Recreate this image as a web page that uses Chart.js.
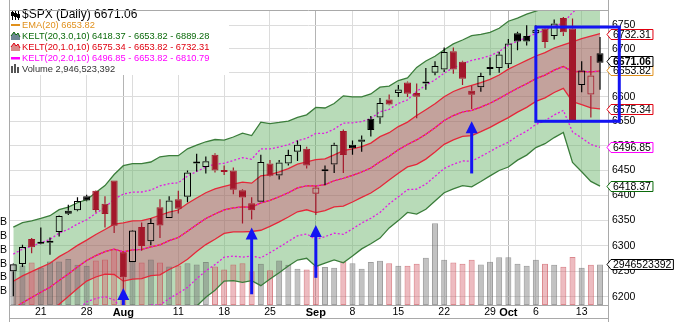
<!DOCTYPE html>
<html>
<head>
<meta charset="utf-8">
<title>$SPX Daily</title>
<script src="https://cdn.jsdelivr.net/npm/chart.js@4.4.1/dist/chart.umd.min.js"></script>
<style>
  html, body { margin: 0; padding: 0; background: #fff; }
  canvas { display: block; }
</style>
</head>
<body>
<canvas id="chart" width="675" height="322"></canvas>
<script>
// $SPX daily candles with Keltner channels and volume overlay

// Trading days
const dates = [
  '2025-07-16','2025-07-17','2025-07-18','2025-07-21','2025-07-22','2025-07-23','2025-07-24','2025-07-25',
  '2025-07-28','2025-07-29','2025-07-30','2025-07-31','2025-08-01','2025-08-04','2025-08-05','2025-08-06',
  '2025-08-07','2025-08-08','2025-08-11','2025-08-12','2025-08-13','2025-08-14','2025-08-15','2025-08-18',
  '2025-08-19','2025-08-20','2025-08-21','2025-08-22','2025-08-25','2025-08-26','2025-08-27','2025-08-28',
  '2025-08-29','2025-09-02','2025-09-03','2025-09-04','2025-09-05','2025-09-08','2025-09-09','2025-09-10',
  '2025-09-11','2025-09-12','2025-09-15','2025-09-16','2025-09-17','2025-09-18','2025-09-19','2025-09-22',
  '2025-09-23','2025-09-24','2025-09-25','2025-09-26','2025-09-29','2025-09-30','2025-10-01','2025-10-02',
  '2025-10-03','2025-10-06','2025-10-07','2025-10-08','2025-10-09','2025-10-10','2025-10-13','2025-10-14',
  '2025-10-15'
];

const opens = [
  6250, 6264, 6313, 6304, 6306, 6327, 6369, 6370, 6398, 6409,
  6383, 6430, 6287, 6268, 6337, 6309, 6376, 6355, 6392, 6397,
  6464, 6457, 6482, 6447, 6450, 6410, 6384, 6387, 6464, 6440,
  6464, 6488, 6494, 6403, 6452, 6462, 6530, 6502, 6508, 6555,
  6558, 6595, 6608, 6630, 6608, 6628, 6650, 6657, 6695, 6673,
  6613, 6620, 6658, 6660, 6668, 6733, 6727, 6733, 6743, 6727,
  6765, 6743, 6625, 6605, 6691
];
const highs = [
  6265, 6302, 6315, 6336, 6316, 6360, 6381, 6396, 6401, 6410,
  6398, 6430, 6288, 6331, 6346, 6354, 6392, 6398, 6409, 6450,
  6484, 6478, 6485, 6460, 6456, 6412, 6396, 6482, 6471, 6471,
  6492, 6511, 6498, 6418, 6460, 6506, 6533, 6511, 6521, 6561,
  6598, 6605, 6625, 6632, 6628, 6660, 6674, 6703, 6703, 6675,
  6623, 6650, 6682, 6694, 6721, 6736, 6750, 6750, 6747, 6762,
  6767, 6764, 6674, 6685, 6725
];
const lows = [
  6201, 6258, 6285, 6303, 6282, 6318, 6361, 6368, 6388, 6366,
  6336, 6325, 6213, 6268, 6290, 6301, 6315, 6355, 6364, 6386,
  6448, 6444, 6446, 6441, 6402, 6344, 6352, 6387, 6438, 6432,
  6460, 6469, 6454, 6361, 6420, 6445, 6445, 6482, 6488, 6519,
  6545, 6583, 6600, 6600, 6556, 6615, 6645, 6652, 6648, 6625,
  6575, 6611, 6645, 6650, 6660, 6697, 6707, 6726, 6702, 6720,
  6727, 6550, 6610, 6558, 6615
];
const closes = [
  6263.70, 6297.36, 6296.79, 6305.60, 6309.62, 6358.91, 6363.35, 6388.64, 6389.77, 6370.86,
  6362.90, 6339.39, 6238.01, 6329.94, 6299.19, 6345.06, 6340.00, 6389.45, 6373.45, 6445.76,
  6466.58, 6468.54, 6449.80, 6449.15, 6411.37, 6395.78, 6370.17, 6466.91, 6439.32, 6465.94,
  6481.40, 6501.86, 6460.26, 6415.54, 6448.26, 6502.08, 6481.50, 6495.15, 6512.61, 6532.04,
  6587.47, 6584.29, 6615.28, 6606.76, 6600.35, 6631.96, 6664.36, 6693.75, 6656.92, 6637.97,
  6604.72, 6643.70, 6661.21, 6688.46, 6711.20, 6715.35, 6715.79, 6740.28, 6714.59, 6753.72,
  6735.11, 6552.51, 6654.72, 6644.31, 6671.06
];

// volume in billions
const volumes = [
  2.95, 2.88, 3.09, 2.73, 3.17, 3.17, 3.35, 2.93, 2.86, 3.24,
  3.31, 4.03, 3.95, 3.17, 3.09, 3.31, 3.09, 2.81, 2.88, 3.04,
  2.95, 3.12, 2.81, 2.59, 2.95, 3.04, 2.45, 3.00, 2.52, 3.24,
  2.93, 2.64, 2.59, 2.88, 2.76, 2.71, 3.17, 3.04, 2.64, 3.12,
  3.22, 3.04, 2.86, 2.86, 3.00, 3.43, 5.95, 3.29, 3.09, 3.00,
  3.29, 2.95, 3.14, 3.47, 3.47, 3.00, 2.86, 3.29, 3.00, 2.93,
  2.78, 3.50, 2.71, 2.93, 2.946523392
];

const ema20 = [
  6177.1, 6188.6, 6198.9, 6209.0, 6218.6, 6232.0, 6244.5, 6258.3, 6270.8, 6280.4,
  6288.2, 6293.1, 6287.8, 6291.8, 6292.5, 6297.6, 6301.6, 6310.0, 6316.1, 6328.5,
  6341.6, 6353.7, 6362.8, 6371.0, 6374.8, 6376.8, 6376.2, 6384.9, 6390.0, 6397.3,
  6405.3, 6414.9, 6419.2, 6418.8, 6421.6, 6429.3, 6434.3, 6440.1, 6447.0, 6455.1,
  6467.7, 6478.8, 6491.8, 6502.7, 6512.0, 6523.4, 6536.8, 6551.7, 6561.7, 6569.0,
  6572.4, 6579.2, 6587.0, 6596.7, 6607.6, 6617.9, 6627.2, 6638.0, 6645.3, 6655.6,
  6663.2, 6652.7, 6652.9, 6652.1, 6653.8225
];
const atr10 = [
  53.2, 52.3, 50.1, 48.3, 46.9, 46.5, 44.0, 42.3, 40.2, 41.8,
  43.8, 49.6, 57.3, 57.4, 57.1, 56.5, 58.7, 56.7, 54.6, 55.1,
  53.2, 51.5, 50.0, 46.8, 47.7, 49.6, 48.2, 54.4, 51.8, 50.1,
  48.4, 47.7, 48.0, 53.2, 51.9, 52.4, 56.0, 53.4, 51.1, 50.4,
  50.9, 47.9, 47.4, 45.6, 49.8, 50.4, 49.3, 48.8, 49.6, 49.9,
  51.8, 50.5, 49.3, 48.9, 50.2, 49.0, 48.7, 47.2, 47.0, 46.3,
  45.4, 62.2, 68.5, 74.7, 78.485
];

const priceTicks = [6200, 6250, 6300, 6350, 6400, 6450, 6500, 6550, 6600, 6650, 6700, 6750];
const volumeTicks = [1, 2, 3, 4, 5, 6];

// hand-drawn annotations (bar index / price)
const arrowIdx = [12, 26, 33, 50];
const arrowTip = [6217, 6336, 6341, 6550];
const arrowTail = [6184, 6205, 6237, 6444];
const boxIdx = [57, 66.1];
const boxPrice = [6550, 6746];

(function() {
  'use strict';

  const FONT = 'Arial, "Liberation Sans", sans-serif';
  Chart.defaults.font.family = FONT;
  Chart.defaults.color = '#000';

  const RED = '#a3172a';
  const BLACK = '#000000';
  const BLUE = '#1414f2';
  const n = closes.length;

  const isUp = closes.map((c, i) => i === 0 || c >= closes[i - 1]);
  const candleColor = isUp.map(u => u ? BLACK : RED);
  const hollow = closes.map((c, i) => c > opens[i]);

  const pts = arr => arr.map((v, i) => ({ x: i, y: v }));
  const band = k => ema20.map((e, i) => e + k * atr10[i]);

  // week / month ticks from the dates
  const monthNames = ['Jan','Feb','Mar','Apr','May','Jun','Jul','Aug','Sep','Oct','Nov','Dec'];
  const xTicks = [];
  let lastLabel = -99;
  for (let i = 1; i < n; i++) {
    const d = new Date(dates[i] + 'T00:00:00Z');
    const p = new Date(dates[i - 1] + 'T00:00:00Z');
    const newMonth = d.getUTCMonth() !== p.getUTCMonth();
    const newWeek = d.getUTCDay() < p.getUTCDay();
    if (!newMonth && !newWeek) continue;
    let label = newMonth ? monthNames[d.getUTCMonth()] : String(d.getUTCDate());
    if (i - lastLabel < 2) label = '';
    else lastLabel = i;
    xTicks.push({ value: i, label: label, month: newMonth });
  }
  const tickInfo = {};
  xTicks.forEach(t => { tickInfo[t.value] = t; });
  const isMonthTick = c => !!(c.tick && tickInfo[c.tick.value] && tickInfo[c.tick.value].month);

  const lineDs = (data, color, width, dash, order, extra) => Object.assign({
    type: 'line',
    data: pts(data),
    yAxisID: 'y',
    borderColor: color,
    borderWidth: width,
    borderDash: dash || [],
    pointRadius: 0,
    tension: 0,
    fill: false,
    order: order
  }, extra || {});

  const datasets = [
    lineDs(band(3), '#3b7d3b', 1.3, null, 12, { fill: '+1', backgroundColor: 'rgba(105,178,105,0.47)' }),
    lineDs(band(-3), '#3b7d3b', 1.3, null, 12),
    lineDs(band(1), '#e5283a', 1.3, null, 11, { fill: '+1', backgroundColor: 'rgba(220,30,90,0.30)' }),
    lineDs(band(-1), '#e5283a', 1.3, null, 11),
    lineDs(band(2), '#e21ee2', 1.3, [2, 2], 5),
    lineDs(band(-2), '#e21ee2', 1.3, [2, 2], 5),
    lineDs(ema20, '#e0901c', 1.2, null, 7),
    lineDs(ema20, '#e5283a', 1.2, null, 6),
    lineDs(ema20, '#e21ee2', 1.3, [2, 2], 4),
    {
      type: 'bar',
      yAxisID: 'yv',
      data: volumes.map((v, i) => ({ x: i, y: v })),
      backgroundColor: isUp.map(u => u ? 'rgba(120,120,120,0.45)' : 'rgba(215,105,115,0.45)'),
      borderColor: isUp.map(u => u ? 'rgba(95,95,95,0.6)' : 'rgba(200,70,80,0.65)'),
      borderWidth: 1,
      borderSkipped: false,
      barThickness: 6,
      grouped: false,
      inflateAmount: 0,
      order: 20
    },
    {
      type: 'bar',
      yAxisID: 'y',
      data: closes.map((c, i) => ({ x: i, y: [Math.max(opens[i], c), highs[i]] })),
      backgroundColor: candleColor,
      borderWidth: 0,
      barThickness: 1.2,
      grouped: false,
      inflateAmount: 0,
      order: 2
    },
    {
      type: 'bar',
      yAxisID: 'y',
      data: closes.map((c, i) => ({ x: i, y: [lows[i], Math.min(opens[i], c)] })),
      backgroundColor: candleColor,
      borderWidth: 0,
      barThickness: 1.2,
      grouped: false,
      inflateAmount: 0,
      order: 2
    },
    {
      type: 'bar',
      yAxisID: 'y',
      data: closes.map((c, i) => ({ x: i, y: [opens[i], c] })),
      backgroundColor: candleColor.map((col, i) => hollow[i] ? 'rgba(0,0,0,0)' : col),
      borderColor: candleColor,
      borderWidth: 1,
      borderSkipped: false,
      barThickness: 7,
      minBarLength: 2,
      grouped: false,
      inflateAmount: 0,
      order: 1
    }
  ];

  const fmt = v => v.toFixed(2);

  function drawFlag(ctx, y, text, color, bold) {
    const x0 = 607;
    const h = 10;
    ctx.save();
    ctx.font = (bold ? 'bold ' : '') + '10.5px ' + FONT;
    const w = ctx.measureText(text).width + 4;
    const yy = Math.round(y) + 0.5;
    ctx.beginPath();
    ctx.moveTo(x0, yy);
    ctx.lineTo(x0 + 4, yy - h / 2);
    ctx.lineTo(x0 + 4 + w, yy - h / 2);
    ctx.lineTo(x0 + 4 + w, yy + h / 2);
    ctx.lineTo(x0 + 4, yy + h / 2);
    ctx.closePath();
    ctx.fillStyle = '#fff';
    ctx.fill();
    ctx.strokeStyle = color;
    ctx.lineWidth = 1;
    ctx.stroke();
    ctx.fillStyle = '#000';
    ctx.textBaseline = 'middle';
    ctx.textAlign = 'left';
    ctx.fillText(text, x0 + 6, yy + 0.5);
    ctx.restore();
  }

  function drawArrow(ctx, x, yTip, yTail) {
    ctx.save();
    ctx.fillStyle = BLUE;
    ctx.strokeStyle = BLUE;
    ctx.lineWidth = 3;
    ctx.beginPath();
    ctx.moveTo(x, yTip + 10);
    ctx.lineTo(x, yTail);
    ctx.stroke();
    ctx.beginPath();
    ctx.moveTo(x, yTip);
    ctx.lineTo(x - 6, yTip + 12);
    ctx.lineTo(x + 6, yTip + 12);
    ctx.closePath();
    ctx.fill();
    ctx.restore();
  }

  function mountainIcon(ctx, y, fill, stroke) {
    ctx.beginPath();
    ctx.moveTo(11, y + 4);
    ctx.lineTo(11, y);
    ctx.lineTo(14, y - 4);
    ctx.lineTo(16, y - 1);
    ctx.lineTo(18, y - 3);
    ctx.lineTo(20, y + 1);
    ctx.lineTo(20, y + 4);
    ctx.closePath();
    ctx.fillStyle = fill;
    ctx.fill();
    ctx.beginPath();
    ctx.moveTo(11, y);
    ctx.lineTo(14, y - 4);
    ctx.lineTo(16, y - 1);
    ctx.lineTo(18, y - 3);
    ctx.lineTo(20, y + 1);
    ctx.strokeStyle = stroke;
    ctx.lineWidth = 1;
    ctx.stroke();
  }

  const overlay = {
    id: 'overlay',
    afterDatasetsDraw(chart) {
      const ctx = chart.ctx;
      const last = n - 1;
      const e = ema20[last], a = atr10[last];
      ctx.save();
      // legend box
      ctx.fillStyle = '#fff';
      ctx.fillRect(10, 8, 219, 67);
      ctx.textBaseline = 'middle';
      ctx.textAlign = 'left';

      // price icon
      ctx.strokeStyle = '#000';
      ctx.fillStyle = '#000';
      ctx.lineWidth = 1;
      [12.5, 15.5, 18.5].forEach((x, k) => {
        ctx.beginPath();
        ctx.moveTo(x, 10);
        ctx.lineTo(x, 20);
        ctx.stroke();
        ctx.fillRect(x - 1.5, 12 + k, 3, 4);
      });
      ctx.font = '12px ' + FONT;
      ctx.fillText('$SPX (Daily) ' + fmt(closes[last]), 22, 15);

      ctx.font = '9.3px ' + FONT;
      ctx.fillStyle = '#e0901c';
      ctx.fillRect(11, 24, 9, 2);
      ctx.fillText('EMA(20) ' + fmt(e), 22, 25.5);

      mountainIcon(ctx, 36, '#6f8795', '#0b6a0b');
      ctx.fillStyle = '#0b6a0b';
      ctx.font = '9.3px ' + FONT;
      ctx.fillText('KELT(20,3.0,10) ' + fmt(e - 3 * a) + ' - ' + fmt(e) + ' - ' + fmt(e + 3 * a), 22, 36.5);

      mountainIcon(ctx, 47, '#d98a8a', '#e00010');
      ctx.fillStyle = '#e00010';
      ctx.fillText('KELT(20,1.0,10) ' + fmt(e - a) + ' - ' + fmt(e) + ' - ' + fmt(e + a), 22, 47.5);

      ctx.fillStyle = '#ff00ff';
      ctx.fillRect(11, 57, 9, 2.5);
      ctx.fillText('KELT(20,2.0,10) ' + fmt(e - 2 * a) + ' - ' + fmt(e) + ' - ' + fmt(e + 2 * a), 22, 58.5);

      ctx.fillStyle = '#555';
      ctx.fillRect(11, 66, 2, 7);
      ctx.fillRect(14, 64, 2, 9);
      ctx.fillRect(17, 67, 2, 6);
      ctx.fillStyle = '#333';
      ctx.fillText('Volume ' + Math.round(volumes[last] * 1e9).toLocaleString('en-US'), 22, 69.5);
      ctx.restore();
    },
    afterDraw(chart) {
      const ctx = chart.ctx;
      const xs = chart.scales.x, ys = chart.scales.y, yv = chart.scales.yv;
      const area = chart.chartArea;
      const last = n - 1;
      const e = ema20[last], a = atr10[last];

      // frame
      ctx.save();
      ctx.strokeStyle = '#a9a9a9';
      ctx.lineWidth = 1;
      ctx.beginPath();
      ctx.moveTo(Math.round(area.left) + 0.5, 0);
      ctx.lineTo(Math.round(area.left) + 0.5, 322);
      ctx.moveTo(Math.round(area.right) + 0.5, 0);
      ctx.lineTo(Math.round(area.right) + 0.5, 322);
      [area.top, area.bottom, 318].forEach(y => {
        ctx.moveTo(area.left, Math.round(y) + 0.5);
        ctx.lineTo(area.right, Math.round(y) + 0.5);
      });
      ctx.stroke();
      ctx.restore();

      // value flags on the right
      drawFlag(ctx, ys.getPixelForValue(e - 3 * a), fmt(e - 3 * a), '#0b6a0b', false);
      drawFlag(ctx, ys.getPixelForValue(e - 2 * a), fmt(e - 2 * a), '#ff00ff', false);
      drawFlag(ctx, ys.getPixelForValue(e - a), fmt(e - a), '#e00010', false);
      drawFlag(ctx, ys.getPixelForValue(e + a), fmt(e + a), '#e00010', false);
      drawFlag(ctx, ys.getPixelForValue(e) - 1, fmt(e), '#e0901c', false);
      drawFlag(ctx, ys.getPixelForValue(closes[last]) - 2, fmt(closes[last]), '#000', true);
      drawFlag(ctx, yv.getPixelForValue(volumes[last]), String(Math.round(volumes[last] * 1e9)), '#000', false);

      // blue annotations
      ctx.save();
      ctx.strokeStyle = BLUE;
      ctx.lineWidth = 3;
      const bx0 = xs.getPixelForValue(boxIdx[0]), bx1 = xs.getPixelForValue(boxIdx[1]);
      const by0 = ys.getPixelForValue(boxPrice[1]), by1 = ys.getPixelForValue(boxPrice[0]);
      ctx.strokeRect(bx0, by0, bx1 - bx0, by1 - by0);
      ctx.restore();
      arrowIdx.forEach((idx, k) => {
        drawArrow(ctx, xs.getPixelForValue(idx), ys.getPixelForValue(arrowTip[k]), ys.getPixelForValue(arrowTail[k]));
      });
    }
  };

  new Chart(document.getElementById('chart'), {
    type: 'line',
    data: { datasets: datasets },
    options: {
      responsive: false,
      animation: false,
      layout: { padding: { top: 7, left: 0, right: 0, bottom: 0 } },
      plugins: {
        legend: { display: false },
        tooltip: { enabled: false },
        filler: { drawTime: 'beforeDatasetsDraw' }
      },
      scales: {
        x: {
          type: 'linear',
          min: -0.47,
          max: 64.87,
          offset: false,
          afterBuildTicks: s => { s.ticks = xTicks.map(t => ({ value: t.value })); },
          afterFit: s => { s.height = 17; },
          border: { display: false },
          grid: {
            offset: false,
            drawTicks: false,
            color: c => isMonthTick(c) ? '#b4b4b4' : '#dcdcdc'
          },
          ticks: {
            autoSkip: false,
            maxRotation: 0,
            minRotation: 0,
            padding: 1,
            color: '#000',
            callback: v => (tickInfo[v] ? tickInfo[v].label : ''),
            font: c => isMonthTick(c)
              ? { family: FONT, size: 11, weight: 'bold' }
              : { family: FONT, size: 10.5, weight: 'normal' }
          }
        },
        y: {
          type: 'logarithmic',
          position: 'right',
          min: 6184.2,
          max: 6781.4,
          afterBuildTicks: s => { s.ticks = priceTicks.map(v => ({ value: v })); },
          afterFit: s => { s.width = 67; },
          border: { display: false },
          grid: { drawTicks: false, color: '#dcdcdc' },
          ticks: {
            padding: 4,
            color: '#000',
            font: { family: FONT, size: 10.5 },
            callback: v => String(v)
          }
        },
        yv: {
          type: 'linear',
          position: 'left',
          min: 0,
          max: 21.44,
          afterBuildTicks: s => { s.ticks = volumeTicks.map(v => ({ value: v })); },
          afterFit: s => { s.width = 9; },
          border: { display: false },
          grid: { display: false, drawTicks: false },
          ticks: {
            padding: 2,
            color: '#000',
            font: { family: FONT, size: 10.5 },
            callback: () => 'B'
          }
        }
      }
    },
    plugins: [overlay]
  });
})();
</script>
</body>
</html>
